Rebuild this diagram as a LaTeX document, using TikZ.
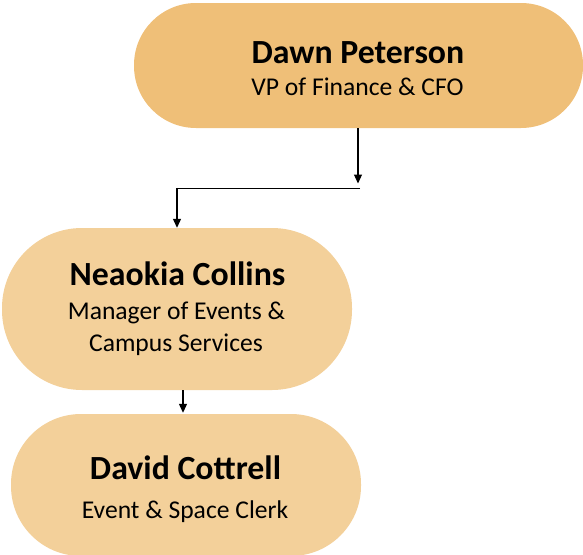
\documentclass[tikz,border=0pt]{standalone}
\usepackage{fontspec}
\setmainfont{Carlito}
\usetikzlibrary{arrows.meta}
\definecolor{boxtop}{RGB}{239,191,120}
\definecolor{boxlow}{RGB}{243,208,154}
\begin{document}
\begin{tikzpicture}[x=1pt,y=1pt,
  pill/.style={draw=none,inner sep=0pt,text width=0pt},
  ttl/.style={font=\fontsize{33.8}{33.8}\selectfont\bfseries,anchor=base,inner sep=0pt},
  sub/.style={font=\fontsize{25.6}{25.6}\selectfont,anchor=base,inner sep=0pt},
  arr/.style={line width=1.2pt,-{Triangle[length=9pt,width=8pt]}},
  ln/.style={line width=1.2pt}]
\useasboundingbox (0,0) rectangle (583,-554);
\node[pill,fill=boxtop,minimum width=449pt,minimum height=125pt,rounded corners=62pt] (dawn) at (358.5,-65.5) {};
\node[pill,fill=boxlow,minimum width=350pt,minimum height=162pt,rounded corners=80pt] (neaokia) at (177,-309) {};
\node[pill,fill=boxlow,minimum width=350pt,minimum height=142pt,rounded corners=70pt] (david) at (186,-485) {};
\node[ttl] (t1) at (358,-63) {Dawn Peterson};
\node[sub] (s1) at (357.5,-95) {VP of Finance \& CFO};
\node[ttl] (t2) at (177.5,-285) {Neaokia Collins};
\node[sub] (s2a) at (176.5,-319) {Manager of Events \&};
\node[sub] (s2b) at (176,-351) {Campus Services};
\node[ttl] (t3) at (185.5,-479) {David Cottrell};
\node[sub] (s3) at (185,-518) {Event \& Space Clerk};
\coordinate (tipA) at (358,-183.5);
\coordinate (j1) at (360,-188.5);
\coordinate (j2) at (177,-188.5);
\draw[arr] (dawn.south -| tipA) -- (tipA);
\draw[ln] (j1) -- (j2);
\draw[arr] ([yshift=0.6pt]j2) -- (neaokia.north -| j2);
\coordinate (m) at (183,0);
\draw[arr] (neaokia.south -| m) -- ([yshift=1pt]david.north -| m);
\end{tikzpicture}
\end{document}
